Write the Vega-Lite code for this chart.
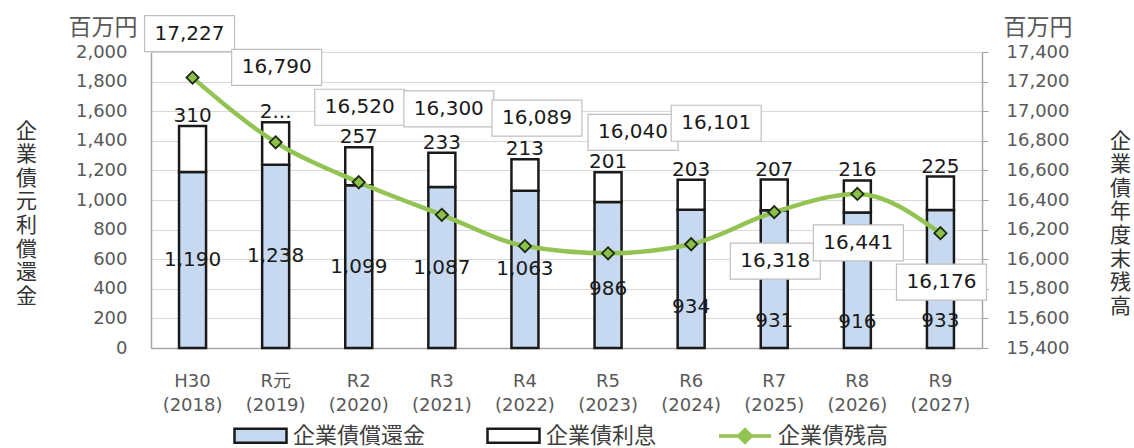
{
  "$schema": "https://vega.github.io/schema/vega-lite/v6.json",
  "width": 831,
  "height": 296,
  "autosize": {"type": "none"},
  "padding": {"left": 151, "top": 52, "right": 152, "bottom": 100},
  "background": "white",
  "config": {
    "view": {"stroke": null},
    "font": "'DejaVu Sans', 'Noto Sans CJK JP', sans-serif",
    "axis": {
      "labelFont": "'DejaVu Sans', 'Noto Sans CJK JP', sans-serif",
      "labelColor": "#595959",
      "labelFontSize": 18,
      "titleFont": "Noto Sans CJK JP",
      "titleColor": "#595959",
      "titleFontWeight": "normal",
      "domainColor": "#a6a6a6",
      "domainWidth": 1.5,
      "tickColor": "#a6a6a6",
      "gridColor": "#d9d9d9",
      "gridWidth": 1.2
    },
    "axisX": {"grid": false}
  },
  "datasets": {
    "bars": [
      {"year": "H30 (2018)", "series": "企業債償還金", "value": 1190},
      {"year": "H30 (2018)", "series": "企業債利息", "value": 310},
      {"year": "R元 (2019)", "series": "企業債償還金", "value": 1238},
      {"year": "R元 (2019)", "series": "企業債利息", "value": 288},
      {"year": "R2 (2020)", "series": "企業債償還金", "value": 1099},
      {"year": "R2 (2020)", "series": "企業債利息", "value": 257},
      {"year": "R3 (2021)", "series": "企業債償還金", "value": 1087},
      {"year": "R3 (2021)", "series": "企業債利息", "value": 233},
      {"year": "R4 (2022)", "series": "企業債償還金", "value": 1063},
      {"year": "R4 (2022)", "series": "企業債利息", "value": 213},
      {"year": "R5 (2023)", "series": "企業債償還金", "value": 986},
      {"year": "R5 (2023)", "series": "企業債利息", "value": 201},
      {"year": "R6 (2024)", "series": "企業債償還金", "value": 934},
      {"year": "R6 (2024)", "series": "企業債利息", "value": 203},
      {"year": "R7 (2025)", "series": "企業債償還金", "value": 931},
      {"year": "R7 (2025)", "series": "企業債利息", "value": 207},
      {"year": "R8 (2026)", "series": "企業債償還金", "value": 916},
      {"year": "R8 (2026)", "series": "企業債利息", "value": 216},
      {"year": "R9 (2027)", "series": "企業債償還金", "value": 933},
      {"year": "R9 (2027)", "series": "企業債利息", "value": 225}
    ],
    "line": [
      {"year": "H30 (2018)", "series": "企業債残高", "value": 17227},
      {"year": "R元 (2019)", "series": "企業債残高", "value": 16790},
      {"year": "R2 (2020)", "series": "企業債残高", "value": 16520},
      {"year": "R3 (2021)", "series": "企業債残高", "value": 16300},
      {"year": "R4 (2022)", "series": "企業債残高", "value": 16089},
      {"year": "R5 (2023)", "series": "企業債残高", "value": 16040},
      {"year": "R6 (2024)", "series": "企業債残高", "value": 16101},
      {"year": "R7 (2025)", "series": "企業債残高", "value": 16318},
      {"year": "R8 (2026)", "series": "企業債残高", "value": 16441},
      {"year": "R9 (2027)", "series": "企業債残高", "value": 16176}
    ]
  },
  "layer": [
    {
      "data": {"name": "bars"},
      "mark": {"type": "bar", "stroke": "#1a1a1a", "strokeWidth": 2.5},
      "encoding": {
        "x": {
          "field": "year", "type": "nominal", "sort": null,
          "scale": {
            "domain": ["H30 (2018)", "R元 (2019)", "R2 (2020)", "R3 (2021)", "R4 (2022)", "R5 (2023)", "R6 (2024)", "R7 (2025)", "R8 (2026)", "R9 (2027)"],
            "paddingInner": 0.675, "paddingOuter": 0.3375
          },
          "axis": {
            "title": null, "labelAngle": 0, "labelExpr": "split(datum.label, ' ')",
            "labelLineHeight": 24, "labelPadding": 24, "ticks": false, "labelBaseline": "top"
          }
        },
        "y": {
          "field": "value", "type": "quantitative", "stack": "zero",
          "scale": {"domain": [0, 2000], "nice": false},
          "axis": {
            "orient": "left", "values": [0, 200, 400, 600, 800, 1000, 1200, 1400, 1600, 1800, 2000],
            "format": ",.0f", "ticks": false, "labelPadding": 24, "grid": true,
            "title": "百万円", "titleAngle": 0, "titleAlign": "right", "titleBaseline": "alphabetic",
            "titleX": -14, "titleY": -18, "titleFontSize": 23
          }
        },
        "fill": {
          "field": "series", "type": "nominal",
          "scale": {"domain": ["企業債償還金", "企業債利息"], "range": ["#c6d9f1", "#ffffff"]},
          "legend": {
            "orient": "none", "legendX": 82, "legendY": 356, "direction": "horizontal",
            "title": null, "labelFontSize": 22, "labelFont": "Noto Sans CJK JP", "labelColor": "#404040",
            "symbolSize": 2704, "columnPadding": 56, "labelOffset": 5, "labelLimit": 300,
            "symbolType": "M-1,-0.27H1V0.27H-1Z",
            "symbolStrokeColor": "#1a1a1a", "symbolStrokeWidth": 2.5, "symbolOpacity": 1
          }
        },
        "order": {"field": "series", "type": "nominal", "sort": "ascending"}
      }
    },
    {
      "data": {"name": "bars"},
      "transform": [{"filter": {"field": "year", "oneOf": ["H30 (2018)", "R元 (2019)", "R2 (2020)", "R3 (2021)", "R4 (2022)"]}}, {"filter": "datum.series === '企業債償還金'"}],
      "mark": {"type": "text", "fontSize": 20, "color": "#1a1a1a", "baseline": "middle"},
      "encoding": {
        "x": {"field": "year", "type": "nominal", "sort": null},
        "y": {
          "field": "value", "type": "quantitative",
          "scale": {"domain": [0, 4000], "nice": false},
          "axis": {
            "orient": "left", "labels": false, "ticks": false, "domain": false, "grid": false,
            "title": ["企", "業", "債", "元", "利", "償", "還", "金"],
            "titleAngle": 0, "titleAlign": "center", "titleBaseline": "top",
            "titleX": -125, "titleY": 68, "titleLineHeight": 23.6, "titleFontSize": 21, "titleColor": "#333333"
          }
        },
        "text": {"field": "value", "type": "quantitative", "format": ","}
      }
    },
    {
      "data": {"name": "bars"},
      "transform": [{"filter": {"field": "year", "oneOf": ["R5 (2023)"]}}, {"filter": "datum.series === '企業債償還金'"}],
      "mark": {"type": "text", "fontSize": 20, "color": "#1a1a1a", "baseline": "middle", "yOffset": 14},
      "encoding": {
        "x": {"field": "year", "type": "nominal", "sort": null},
        "y": {"field": "value", "type": "quantitative", "scale": {"domain": [0, 4000], "nice": false}, "axis": null},
        "text": {"field": "value", "type": "quantitative", "format": ","}
      }
    },
    {
      "data": {"name": "bars"},
      "transform": [{"filter": {"field": "year", "oneOf": ["R6 (2024)"]}}, {"filter": "datum.series === '企業債償還金'"}],
      "mark": {"type": "text", "fontSize": 20, "color": "#1a1a1a", "baseline": "middle", "yOffset": 28},
      "encoding": {
        "x": {"field": "year", "type": "nominal", "sort": null},
        "y": {"field": "value", "type": "quantitative", "scale": {"domain": [0, 4000], "nice": false}, "axis": null},
        "text": {"field": "value", "type": "quantitative", "format": ","}
      }
    },
    {
      "data": {"name": "bars"},
      "transform": [{"filter": {"field": "year", "oneOf": ["R7 (2025)", "R8 (2026)", "R9 (2027)"]}}, {"filter": "datum.series === '企業債償還金'"}],
      "mark": {"type": "text", "fontSize": 20, "color": "#1a1a1a", "baseline": "middle", "yOffset": 42},
      "encoding": {
        "x": {"field": "year", "type": "nominal", "sort": null},
        "y": {"field": "value", "type": "quantitative", "scale": {"domain": [0, 4000], "nice": false}, "axis": null},
        "text": {"field": "value", "type": "quantitative", "format": ","}
      }
    },
    {
      "data": {"name": "bars"},
      "transform": [
        {"stack": "value", "groupby": ["year"], "sort": [{"field": "series", "order": "ascending"}], "as": ["v0", "v1"]},
        {"filter": "datum.series === '企業債利息'"}
      ],
      "mark": {"type": "text", "fontSize": 20, "color": "#1a1a1a", "baseline": "alphabetic", "dy": -4},
      "encoding": {
        "x": {"field": "year", "type": "nominal", "sort": null},
        "y": {
          "field": "v1", "type": "quantitative",
          "scale": {"domain": [0, 2000], "nice": false},
          "axis": {
            "orient": "right", "labels": false, "ticks": false, "domain": false, "grid": false,
            "title": ["企", "業", "債", "年", "度", "末", "残", "高"],
            "titleAngle": 0, "titleAlign": "center", "titleBaseline": "top",
            "titleX": 138, "titleY": 78, "titleLineHeight": 23.6, "titleFontSize": 21, "titleColor": "#333333"
          }
        },
        "text": {
          "condition": {"test": "datum.year === 'R元 (2019)'", "value": "2..."},
          "field": "value", "type": "quantitative", "format": ","
        }
      }
    },
    {
      "data": {"name": "line"},
      "mark": {"type": "line", "strokeWidth": 4.5, "interpolate": "monotone"},
      "encoding": {
        "x": {"field": "year", "type": "nominal", "sort": null},
        "y": {
          "field": "value", "type": "quantitative",
          "scale": {"domain": [15400, 17400], "nice": false, "zero": false},
          "axis": {
            "orient": "right", "values": [15400, 15600, 15800, 16000, 16200, 16400, 16600, 16800, 17000, 17200, 17400],
            "format": ",.0f", "grid": false, "tickSize": 6, "labelPadding": 18,
            "title": "百万円", "titleAngle": 0, "titleAlign": "left", "titleBaseline": "alphabetic",
            "titleX": 21, "titleY": -18, "titleFontSize": 23
          }
        },
        "stroke": {
          "field": "series", "type": "nominal",
          "scale": {"domain": ["企業債残高"], "range": ["#92c353"]},
          "legend": {
            "orient": "none", "legendX": 566, "legendY": 356, "direction": "horizontal",
            "title": null, "labelFontSize": 22, "labelFont": "Noto Sans CJK JP", "labelColor": "#404040",
            "symbolSize": 2704, "labelOffset": 5, "labelLimit": 300,
            "symbolType": "M-1,0H1M-0.24,0L0,-0.24L0.24,0L0,0.24Z",
            "symbolFillColor": "#8cc04a", "symbolStrokeWidth": 3.5, "symbolOpacity": 1
          }
        }
      }
    },
    {
      "data": {"name": "line"},
      "mark": {"type": "point", "shape": "diamond", "filled": true, "fill": "#8cc04a", "stroke": "#1e2a10", "strokeWidth": 1.8, "size": 150, "opacity": 1},
      "encoding": {
        "x": {"field": "year", "type": "nominal", "sort": null},
        "y": {"field": "value", "type": "quantitative", "scale": {"domain": [15400, 17400], "nice": false, "zero": false}, "axis": null}
      }
    },
    {
      "data": {"name": "line"},
      "transform": [{"filter": {"field": "year", "oneOf": ["H30 (2018)"]}}],
      "encoding": {
        "x": {"field": "year", "type": "nominal", "sort": null},
        "y": {"field": "value", "type": "quantitative", "scale": {"domain": [15400, 17400], "nice": false, "zero": false}, "axis": null}
      },
      "layer": [
        {"mark": {"type": "point", "shape": "M-1,-0.4H1V0.4H-1Z", "size": 8100, "filled": true, "fill": "#ffffff", "stroke": "#bfbfbf", "strokeWidth": 1.2, "opacity": 1, "xOffset": -3, "yOffset": -44}},
        {"mark": {"type": "text", "fontSize": 20, "color": "#1a1a1a", "baseline": "middle", "xOffset": -3, "yOffset": -44}, "encoding": {"text": {"field": "value", "type": "quantitative", "format": ","}}}
      ]
    },
    {
      "data": {"name": "line"},
      "transform": [{"filter": {"field": "year", "oneOf": ["R元 (2019)", "R2 (2020)"]}}],
      "encoding": {
        "x": {"field": "year", "type": "nominal", "sort": null},
        "y": {"field": "value", "type": "quantitative", "scale": {"domain": [15400, 17400], "nice": false, "zero": false}, "axis": null}
      },
      "layer": [
        {"mark": {"type": "point", "shape": "M-1,-0.4H1V0.4H-1Z", "size": 8100, "filled": true, "fill": "#ffffff", "stroke": "#bfbfbf", "strokeWidth": 1.2, "opacity": 1, "xOffset": 1, "yOffset": -75}},
        {"mark": {"type": "text", "fontSize": 20, "color": "#1a1a1a", "baseline": "middle", "xOffset": 1, "yOffset": -75}, "encoding": {"text": {"field": "value", "type": "quantitative", "format": ","}}}
      ]
    },
    {
      "data": {"name": "line"},
      "transform": [{"filter": {"field": "year", "oneOf": ["R3 (2021)"]}}],
      "encoding": {
        "x": {"field": "year", "type": "nominal", "sort": null},
        "y": {"field": "value", "type": "quantitative", "scale": {"domain": [15400, 17400], "nice": false, "zero": false}, "axis": null}
      },
      "layer": [
        {"mark": {"type": "point", "shape": "M-1,-0.4H1V0.4H-1Z", "size": 8100, "filled": true, "fill": "#ffffff", "stroke": "#bfbfbf", "strokeWidth": 1.2, "opacity": 1, "xOffset": 7, "yOffset": -106}},
        {"mark": {"type": "text", "fontSize": 20, "color": "#1a1a1a", "baseline": "middle", "xOffset": 7, "yOffset": -106}, "encoding": {"text": {"field": "value", "type": "quantitative", "format": ","}}}
      ]
    },
    {
      "data": {"name": "line"},
      "transform": [{"filter": {"field": "year", "oneOf": ["R4 (2022)"]}}],
      "encoding": {
        "x": {"field": "year", "type": "nominal", "sort": null},
        "y": {"field": "value", "type": "quantitative", "scale": {"domain": [15400, 17400], "nice": false, "zero": false}, "axis": null}
      },
      "layer": [
        {"mark": {"type": "point", "shape": "M-1,-0.4H1V0.4H-1Z", "size": 8100, "filled": true, "fill": "#ffffff", "stroke": "#bfbfbf", "strokeWidth": 1.2, "opacity": 1, "xOffset": 12, "yOffset": -128}},
        {"mark": {"type": "text", "fontSize": 20, "color": "#1a1a1a", "baseline": "middle", "xOffset": 12, "yOffset": -128}, "encoding": {"text": {"field": "value", "type": "quantitative", "format": ","}}}
      ]
    },
    {
      "data": {"name": "line"},
      "transform": [{"filter": {"field": "year", "oneOf": ["R5 (2023)", "R6 (2024)"]}}],
      "encoding": {
        "x": {"field": "year", "type": "nominal", "sort": null},
        "y": {"field": "value", "type": "quantitative", "scale": {"domain": [15400, 17400], "nice": false, "zero": false}, "axis": null}
      },
      "layer": [
        {"mark": {"type": "point", "shape": "M-1,-0.4H1V0.4H-1Z", "size": 8100, "filled": true, "fill": "#ffffff", "stroke": "#bfbfbf", "strokeWidth": 1.2, "opacity": 1, "xOffset": 25, "yOffset": -121}},
        {"mark": {"type": "text", "fontSize": 20, "color": "#1a1a1a", "baseline": "middle", "xOffset": 25, "yOffset": -121}, "encoding": {"text": {"field": "value", "type": "quantitative", "format": ","}}}
      ]
    },
    {
      "data": {"name": "line"},
      "transform": [{"filter": {"field": "year", "oneOf": ["R7 (2025)", "R8 (2026)", "R9 (2027)"]}}],
      "encoding": {
        "x": {"field": "year", "type": "nominal", "sort": null},
        "y": {"field": "value", "type": "quantitative", "scale": {"domain": [15400, 17400], "nice": false, "zero": false}, "axis": null}
      },
      "layer": [
        {"mark": {"type": "point", "shape": "M-1,-0.4H1V0.4H-1Z", "size": 8100, "filled": true, "fill": "#ffffff", "stroke": "#bfbfbf", "strokeWidth": 1.2, "opacity": 1, "xOffset": 1, "yOffset": 49}},
        {"mark": {"type": "text", "fontSize": 20, "color": "#1a1a1a", "baseline": "middle", "xOffset": 1, "yOffset": 49}, "encoding": {"text": {"field": "value", "type": "quantitative", "format": ","}}}
      ]
    }
  ],
  "resolve": {"scale": {"y": "independent"}}
}
